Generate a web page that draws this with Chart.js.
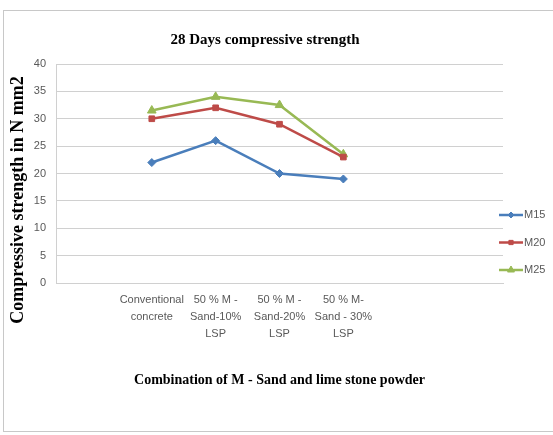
<!DOCTYPE html>
<html>
<head>
<meta charset="utf-8">
<script src="https://cdn.jsdelivr.net/npm/chart.js@4/dist/chart.umd.min.js"></script>
<style>
  html, body { margin: 0; padding: 0; background: #fff; }
  #wrap { position: relative; width: 553px; height: 435px; overflow: hidden; }
  #frame { position: absolute; left: 3px; top: 10px; width: 560px; height: 420px;
           border: 1px solid #c8c8c8; pointer-events: none; }
  canvas { position: absolute; left: 0; top: 0; }
</style>
</head>
<body>
<div id="wrap">
  <canvas id="chart" width="553" height="435"></canvas>
  <div id="frame"></div>
</div>
<script>
// Mix proportions along the x axis (blank slots keep the category spacing)
const categories = [
  '',
  ['Conventional', 'concrete'],
  ['50 % M -', 'Sand-10%', 'LSP'],
  ['50 % M -', 'Sand-20%', 'LSP'],
  ['50 % M-', 'Sand - 30%', 'LSP'],
  '',
  ''
];

// 28-day compressive strength (N/mm2) per grade
const m15 = [null, 22, 26, 20, 19, null, null];
const m20 = [null, 30, 32, 29, 23, null, null];
const m25 = [null, 31.5, 34, 32.5, 23.5, null, null];

const seriesNames = ['M15', 'M20', 'M25'];
const yTicks = [0, 5, 10, 15, 20, 25, 30, 35, 40];

const chartTitle = '28 Days compressive strength';
const yTitle = 'Compressive strength in N mm2';
const xTitle = 'Combination of M - Sand and lime stone powder';

const sansFamily = "'Liberation Sans Narrow', 'Liberation Sans', sans-serif";
const serifFamily = "'Liberation Serif', 'Times New Roman', serif";
const tickFont = { family: sansFamily, size: 11 };
const serifBold = (size) => ({ family: serifFamily, size: size, weight: 'bold' });

function series(label, data, color, style) {
  return {
    label: label,
    data: data,
    borderColor: color,
    backgroundColor: color,
    borderWidth: 2.5,
    pointStyle: style,
    pointRadius: style === 'triangle' ? 5 : 4,
    pointBorderWidth: 1,
    pointBackgroundColor: color,
    pointBorderColor: color,
    tension: 0,
    spanGaps: false
  };
}

// Chart heading and the vertical axis caption
const captions = {
  id: 'captions',
  afterDraw(chart) {
    const ctx = chart.ctx;
    ctx.save();
    ctx.fillStyle = '#000';
    ctx.textAlign = 'center';
    ctx.textBaseline = 'middle';
    ctx.font = 'bold 15px ' + serifFamily;
    ctx.fillText(chartTitle, 265, 40);
    ctx.translate(18, 200);
    ctx.rotate(-Math.PI / 2);
    ctx.font = 'bold 18px ' + serifFamily;
    ctx.fillText(yTitle, 0, 0);
    ctx.restore();
  }
};

// Legend at the right: short line with the series marker, then the name
const sideLegend = {
  id: 'sideLegend',
  afterDraw(chart) {
    const ctx = chart.ctx;
    const x0 = 499, x1 = 523, top = 215, step = 27.5;
    chart.data.datasets.forEach((ds, i) => {
      const y = top + i * step;
      ctx.save();
      ctx.strokeStyle = ds.borderColor;
      ctx.lineWidth = ds.borderWidth;
      ctx.beginPath();
      ctx.moveTo(x0, y);
      ctx.lineTo(x1, y);
      ctx.stroke();
      ctx.fillStyle = ds.pointBackgroundColor;
      ctx.strokeStyle = ds.pointBorderColor;
      ctx.lineWidth = 1;
      Chart.helpers.drawPoint(ctx, {
        pointStyle: ds.pointStyle,
        radius: ds.pointRadius - 1,
        rotation: 0,
        borderWidth: 1
      }, (x0 + x1) / 2, y);
      ctx.fillStyle = '#595959';
      ctx.font = '11px ' + sansFamily;
      ctx.textBaseline = 'middle';
      ctx.textAlign = 'left';
      ctx.fillText(ds.label, x1 + 1, y);
      ctx.restore();
    });
  }
};

new Chart(document.getElementById('chart'), {
  type: 'line',
  data: {
    labels: categories,
    datasets: [
      series(seriesNames[0], m15, '#4a7ebb', 'rectRot'),
      series(seriesNames[1], m20, '#be4b48', 'rect'),
      series(seriesNames[2], m25, '#98b954', 'triangle')
    ]
  },
  options: {
    responsive: false,
    animation: false,
    layout: { padding: { left: 0, right: 50, top: 64, bottom: 46 } },
    plugins: {
      legend: { display: false },
      tooltip: { enabled: false },
      title: { display: false }
    },
    scales: {
      x: {
        type: 'category',
        offset: true,
        grid: { display: false, drawTicks: false },
        border: { display: true, color: '#d0d0d0', width: 1 },
        ticks: {
          autoSkip: false,
          maxRotation: 0,
          minRotation: 0,
          padding: 8,
          color: '#595959',
          font: Object.assign({ lineHeight: 1.55 }, tickFont)
        },
        title: {
          display: true,
          text: xTitle,
          color: '#000',
          font: serifBold(14),
          padding: { top: 0, bottom: 0 }
        },
        afterFit(scale) { scale.height = 106; }
      },
      y: {
        min: yTicks[0],
        max: yTicks[yTicks.length - 1],
        afterBuildTicks(scale) { scale.ticks = yTicks.map(v => ({ value: v })); },
        grid: { color: '#d0d0d0', lineWidth: 1, drawTicks: false },
        border: { display: true, color: '#d0d0d0', width: 1 },
        ticks: { padding: 10, color: '#595959', font: tickFont },
        title: { display: false },
        afterFit(scale) { scale.width = 56; }
      }
    }
  },
  plugins: [captions, sideLegend]
});
</script>
</body>
</html>
